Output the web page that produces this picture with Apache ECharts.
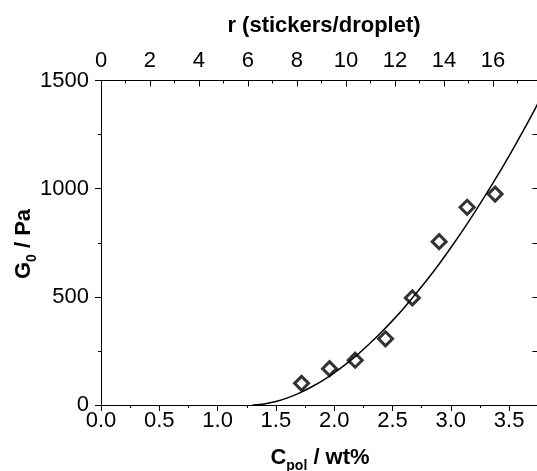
<!DOCTYPE html>
<html>
<head>
<meta charset="utf-8">
<script src="https://cdn.jsdelivr.net/npm/echarts@6/dist/echarts.min.js"></script>
<style>
html,body{margin:0;padding:0;background:#fff;}
#chart{width:537px;height:471px;}
</style>
</head>
<body>
<div id="chart"></div>
<script>
// Measured data (diamonds)
const cpol = [1.72, 1.96, 2.18, 2.44, 2.67, 2.90, 3.14, 3.38];
const g0 = [100, 168, 207, 306, 495, 755, 914, 975];
// Fitted curve, values
const curveC = [1.3, 1.4, 1.5, 1.6, 1.7, 1.8, 1.9, 2.0, 2.1, 2.2, 2.3, 2.4, 2.5, 2.6, 2.7, 2.8, 2.9, 3.0, 3.1, 3.2, 3.3, 3.4, 3.5, 3.6, 3.7, 3.75];
const curveG = [0, 5, 16, 33, 55, 82, 113, 149, 189, 233, 282, 334, 390, 450, 514, 581, 652, 727, 805, 887, 972, 1060, 1152, 1247, 1346, 1397];
// Axis settings
const xTickLabels = ['0.0', '0.5', '1.0', '1.5', '2.0', '2.5', '3.0', '3.5'];
const rTickLabels = ['0', '2', '4', '6', '8', '10', '12', '14', '16'];
const yTickLabels = ['0', '500', '1000', '1500'];
const rPerWt = 4.76;

const font = '"Liberation Sans", Arial, sans-serif';
const chart = echarts.init(document.getElementById('chart'), null, {renderer: 'canvas'});
const xMax = 4.0;
const lbl = {color: '#000', fontFamily: font, fontSize: 22};
const axisLine = {show: true, onZero: false, lineStyle: {color: '#000', width: 1}};

chart.setOption({
  animation: false,
  backgroundColor: '#fff',
  grid: {left: 101, top: 80.5, height: 324.5, right: -30.4, containLabel: false, outerBoundsMode: 'none'},
  xAxis: [
    {
      type: 'value', position: 'bottom', min: 0, max: xMax, interval: 0.5,
      axisLine: axisLine,
      axisTick: {show: true, inside: false, length: 6, lineStyle: {color: '#000'}},
      minorTick: {show: true, splitNumber: 2, length: 3, lineStyle: {color: '#000'}},
      splitLine: {show: false},
      axisLabel: Object.assign({}, lbl, {margin: 5, formatter: function (v) {
        const s = v.toFixed(1); return xTickLabels.indexOf(s) >= 0 ? s : '';
      }})
    },
    {
      type: 'value', position: 'top', min: 0, max: xMax * rPerWt, interval: 2,
      axisLine: axisLine,
      axisTick: {show: true, inside: true, length: 6, lineStyle: {color: '#000'}},
      minorTick: {show: true, splitNumber: 2, length: 3, lineStyle: {color: '#000'}},
      splitLine: {show: false},
      axisLabel: Object.assign({}, lbl, {margin: 9, formatter: function (v) {
        const s = String(Math.round(v)); return (Math.abs(v - Math.round(v)) < 1e-6 && rTickLabels.indexOf(s) >= 0) ? s : '';
      }})
    }
  ],
  yAxis: [
    {
      type: 'value', position: 'left', min: 0, max: 1500, interval: 500,
      axisLine: axisLine,
      axisTick: {show: true, inside: false, length: 6, lineStyle: {color: '#000'}},
      minorTick: {show: true, splitNumber: 2, length: 3, lineStyle: {color: '#000'}},
      splitLine: {show: false},
      axisLabel: Object.assign({}, lbl, {margin: 12, formatter: function (v) {
        const s = String(v); return yTickLabels.indexOf(s) >= 0 ? s : '';
      }})
    },
    {
      type: 'value', position: 'right', min: 0, max: 1500, interval: 250,
      axisLine: {show: false, onZero: false},
      axisTick: {show: true, inside: true, length: 35, lineStyle: {color: '#000'}},
      splitLine: {show: false},
      axisLabel: {show: false}
    }
  ],
  graphic: [
    {type: 'text', x: 324, y: 26, style: {text: 'r (stickers/droplet)', font: 'bold 22px ' + font, fill: '#000', align: 'center', verticalAlign: 'middle'}},
    {type: 'text', x: 320, y: 458, style: {
      text: '{b|C}{s|pol}{b| / wt%}', align: 'center', verticalAlign: 'middle',
      rich: {
        b: {font: 'bold 22px ' + font, fill: '#000', lineHeight: 30},
        s: {font: 'bold 14px ' + font, fill: '#000', lineHeight: 14, verticalAlign: 'bottom'}
      }
    }},
    {type: 'text', x: 24, y: 244, rotation: Math.PI / 2, style: {
      text: '{b|G}{s|0}{b| / Pa}', align: 'center', verticalAlign: 'middle',
      rich: {
        b: {font: 'bold 22px ' + font, fill: '#000', lineHeight: 30},
        s: {font: 'bold 14px ' + font, fill: '#000', lineHeight: 14, verticalAlign: 'bottom'}
      }
    }}
  ],
  series: [
    {
      type: 'line', xAxisIndex: 0, yAxisIndex: 0,
      data: curveC.map((c, i) => [c, curveG[i]]),
      showSymbol: false, smooth: 0.3,
      lineStyle: {color: '#000', width: 1.5},
      z: 2
    },
    {
      type: 'scatter', xAxisIndex: 0, yAxisIndex: 0,
      data: cpol.map((c, i) => [c, g0[i]]),
      symbol: 'diamond', symbolSize: 14,
      itemStyle: {color: 'rgba(255,255,255,0)', borderColor: '#000', borderWidth: 3},
      z: 3
    }
  ]
});
</script>
</body>
</html>
